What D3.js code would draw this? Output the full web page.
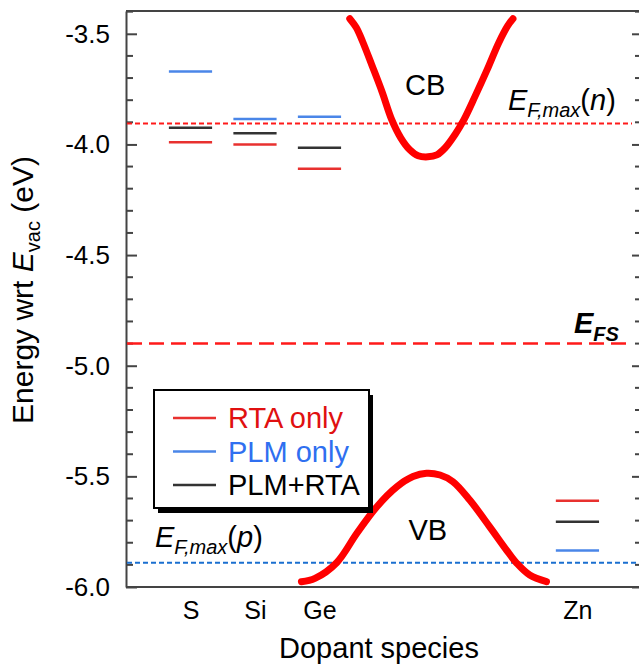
<!DOCTYPE html>
<html>
<head>
<meta charset="utf-8">
<script src="https://cdn.jsdelivr.net/npm/d3@7"></script>
<style>
  body { margin: 0; background: #fff; }
  text { font-family: "Liberation Sans", Arial, sans-serif; }
</style>
</head>
<body>
<div id="wrapper"></div>
<script>
// dopant levels (eV wrt vacuum)
const dopants = ["S", "Si", "Ge", "Zn"]
const dopantPos = [1, 2, 3, 7]
const rtaLevels = [-3.99, -4.00, -4.11, -5.61]
const plmLevels = [-3.67, -3.885, -3.875, -5.835]
const bothLevels = [-3.925, -3.95, -4.015, -5.705]

// reference energies
const efMaxN = -3.905
const efs = -4.9
const efMaxP = -5.89

// schematic band edges [position, energy]
const cbPoints = [
  [3.47, -3.432], [3.57, -3.472], [3.67, -3.536], [3.81, -3.640],
  [3.97, -3.762], [4.12, -3.888], [4.26, -3.970], [4.40, -4.024],
  [4.53, -4.051], [4.68, -4.056], [4.82, -4.047], [4.95, -4.015],
  [5.10, -3.956], [5.24, -3.888], [5.41, -3.784], [5.60, -3.662],
  [5.78, -3.540], [5.92, -3.463], [6.00, -3.432],
]
const vbPoints = [
  [2.72, -5.976], [2.93, -5.961], [3.27, -5.889], [3.58, -5.757],
  [3.89, -5.637], [4.20, -5.547], [4.45, -5.501], [4.66, -5.486],
  [4.87, -5.494], [5.07, -5.524], [5.33, -5.607], [5.64, -5.728],
  [5.90, -5.833], [6.06, -5.893], [6.26, -5.946], [6.52, -5.976],
]

const yMajor = [-6.0, -5.5, -5.0, -4.5, -4.0, -3.5]
const yMinor = [-5.9, -5.8, -5.7, -5.6, -5.4, -5.3, -5.2, -5.1,
  -4.9, -4.8, -4.7, -4.6, -4.4, -4.3, -4.2, -4.1,
  -3.9, -3.8, -3.7, -3.6, -3.4]

const legendItems = [
  { label: "RTA only", color: "#e8312f", text: "#e01010" },
  { label: "PLM only", color: "#4a86e8", text: "#2f6ff0" },
  { label: "PLM+RTA", color: "#333333", text: "#000000" },
]

function drawChart() {
  // right axis sits just past the picture edge, only its ticks show
  const dimensions = {
    width: 639,
    height: 667,
    margin: { top: 11, right: -1, bottom: 80, left: 126 },
  }
  dimensions.boundedWidth = dimensions.width
      - dimensions.margin.left - dimensions.margin.right
  dimensions.boundedHeight = dimensions.height
      - dimensions.margin.top - dimensions.margin.bottom

  const wrapper = d3.select("#wrapper")
    .append("svg")
      .attr("width", dimensions.width)
      .attr("height", dimensions.height)

  const bounds = wrapper.append("g")
      .attr("transform", `translate(${dimensions.margin.left},${dimensions.margin.top})`)

  const xScale = d3.scaleLinear()
      .domain([0, 7.97])
      .range([0, dimensions.boundedWidth])
  const yScale = d3.scaleLinear()
      .domain([-6.0, -3.397])
      .range([dimensions.boundedHeight, 0])

  // frame
  const axisColor = "#444"
  bounds.append("line")
      .attr("x1", 0).attr("x2", dimensions.boundedWidth)
      .attr("y1", 0).attr("y2", 0)
      .attr("stroke", axisColor).attr("stroke-width", 2)
  bounds.append("line")
      .attr("x1", 0).attr("x2", dimensions.boundedWidth)
      .attr("y1", dimensions.boundedHeight).attr("y2", dimensions.boundedHeight)
      .attr("stroke", axisColor).attr("stroke-width", 2)

  // left axis, ticks inward
  const leftAxis = bounds.append("g")
    .call(d3.axisLeft(yScale).tickValues(yMajor).tickSizeInner(-11).tickSizeOuter(0)
      .tickFormat(d => d.toFixed(1)))
  leftAxis.select(".domain").attr("stroke", axisColor).attr("stroke-width", 2)
  leftAxis.selectAll(".tick line").attr("stroke", axisColor).attr("stroke-width", 2)
  leftAxis.selectAll(".tick text")
      .attr("font-size", 26)
      .attr("font-family", "Liberation Sans, Arial, sans-serif")
      .attr("fill", "#000")
      .attr("x", -16)
  leftAxis.append("g")
    .selectAll("line")
    .data(yMinor)
    .join("line")
      .attr("x1", 0).attr("x2", 7)
      .attr("y1", d => yScale(d)).attr("y2", d => yScale(d))
      .attr("stroke", axisColor).attr("stroke-width", 2)

  // right axis, ticks inward, no labels
  const rightAxis = bounds.append("g")
      .attr("transform", `translate(${dimensions.boundedWidth},0)`)
    .call(d3.axisRight(yScale).tickValues(yMajor).tickSizeInner(-8).tickSizeOuter(0)
      .tickFormat(""))
  rightAxis.select(".domain").attr("stroke", axisColor).attr("stroke-width", 2)
  rightAxis.selectAll(".tick line").attr("stroke", axisColor).attr("stroke-width", 2)
  rightAxis.append("g")
    .selectAll("line")
    .data(yMinor)
    .join("line")
      .attr("x1", 0).attr("x2", -5)
      .attr("y1", d => yScale(d)).attr("y2", d => yScale(d))
      .attr("stroke", axisColor).attr("stroke-width", 2)

  // bottom axis labels (no ticks)
  const xAxis = bounds.append("g")
      .attr("transform", `translate(0,${dimensions.boundedHeight})`)
    .call(d3.axisBottom(xScale).tickValues(dopantPos).tickSize(0).tickPadding(14)
      .tickFormat((d, i) => dopants[i]))
  xAxis.select(".domain").remove()
  xAxis.selectAll(".tick text")
      .attr("font-size", 25)
      .attr("font-family", "Liberation Sans, Arial, sans-serif")
      .attr("fill", "#000")
      .attr("dy", "0.71em")

  // axis titles
  wrapper.append("text")
      .attr("x", 379)
      .attr("y", 658)
      .attr("text-anchor", "middle")
      .attr("font-size", 29)
      .text("Dopant species")

  const yTitle = wrapper.append("text")
      .attr("transform", "translate(33,290) rotate(-90)")
      .attr("text-anchor", "middle")
      .attr("font-size", 30)
  yTitle.append("tspan").text("Energy wrt ")
  yTitle.append("tspan").attr("font-style", "italic").text("E")
  yTitle.append("tspan").attr("font-size", 20).attr("dy", 7).text("vac")
  yTitle.append("tspan").attr("dy", -7).text(" (eV)")

  // reference dashed lines
  const dashed = [
    { e: efMaxN, color: "#ff1a1a", width: 2, dash: "5,3", end: 632 },
    { e: efs, color: "#ff1a1a", width: 2.5, dash: "15,7", end: 628 },
    { e: efMaxP, color: "#1a6fd0", width: 2, dash: "5,3", end: 638 },
  ]
  bounds.append("g")
    .selectAll("line")
    .data(dashed)
    .join("line")
      .attr("x1", 1)
      .attr("x2", d => d.end - dimensions.margin.left)
      .attr("y1", d => yScale(d.e)).attr("y2", d => yScale(d.e))
      .attr("stroke", d => d.color)
      .attr("stroke-width", d => d.width)
      .attr("stroke-dasharray", d => d.dash)

  // band edges
  const lineGenerator = d3.line()
    .x(d => xScale(d[0]))
    .y(d => yScale(d[1]))
    .curve(d3.curveCatmullRom)
  bounds.selectAll(".band")
    .data([cbPoints, vbPoints])
    .join("path")
      .attr("class", "band")
      .attr("d", lineGenerator)
      .attr("fill", "none")
      .attr("stroke", "#ff0000")
      .attr("stroke-width", 7)
      .attr("stroke-linecap", "round")
      .attr("stroke-linejoin", "round")

  bounds.append("text")
      .attr("x", xScale(4.64)).attr("y", yScale(-3.775))
      .attr("text-anchor", "middle").attr("font-size", 29)
      .text("CB")
  bounds.append("text")
      .attr("x", xScale(4.68)).attr("y", yScale(-5.787))
      .attr("text-anchor", "middle").attr("font-size", 29)
      .text("VB")

  // dopant levels
  const halfW = 0.335
  const series = [
    { values: rtaLevels, color: legendItems[0].color },
    { values: plmLevels, color: legendItems[1].color },
    { values: bothLevels, color: legendItems[2].color },
  ]
  series.forEach(s => {
    bounds.append("g")
      .selectAll("line")
      .data(s.values)
      .join("line")
        .attr("x1", (d, i) => xScale(dopantPos[i] - halfW))
        .attr("x2", (d, i) => xScale(dopantPos[i] + halfW))
        .attr("y1", d => yScale(d)).attr("y2", d => yScale(d))
        .attr("stroke", s.color)
        .attr("stroke-width", 2.5)
  })

  // energy labels
  const efnLabel = wrapper.append("text")
      .attr("x", 508).attr("y", 110).attr("font-size", 29)
  efnLabel.append("tspan").attr("font-style", "italic").text("E")
  efnLabel.append("tspan").attr("font-style", "italic").attr("font-size", 20)
      .attr("dy", 7).text("F,max")
  efnLabel.append("tspan").attr("dy", -7).text("(")
  efnLabel.append("tspan").attr("font-style", "italic").text("n")
  efnLabel.append("tspan").text(")")

  const efsLabel = wrapper.append("text")
      .attr("x", 574).attr("y", 333).attr("font-size", 29)
      .attr("font-weight", "bold").attr("font-style", "italic")
  efsLabel.append("tspan").text("E")
  efsLabel.append("tspan").attr("font-size", 20).attr("dy", 8).text("FS")

  const efpLabel = wrapper.append("text")
      .attr("x", 155).attr("y", 547).attr("font-size", 29)
  efpLabel.append("tspan").attr("font-style", "italic").text("E")
  efpLabel.append("tspan").attr("font-style", "italic").attr("font-size", 20)
      .attr("dy", 7).text("F,max")
  efpLabel.append("tspan").attr("dy", -7).text("(")
  efpLabel.append("tspan").attr("font-style", "italic").text("p")
  efpLabel.append("tspan").text(")")

  // legend box with drop shadow
  const legend = wrapper.append("g")
      .attr("transform", "translate(154,390)")
  legend.append("rect")
      .attr("x", 4).attr("y", 5).attr("width", 215).attr("height", 118)
      .attr("fill", "#000")
  legend.append("rect")
      .attr("width", 215).attr("height", 118)
      .attr("fill", "#fff").attr("stroke", "#000").attr("stroke-width", 2)
  const rows = legend.selectAll(".row")
    .data(legendItems)
    .join("g")
      .attr("class", "row")
      .attr("transform", (d, i) => `translate(0,${28 + i * 33.5})`)
  rows.append("line")
      .attr("x1", 19).attr("x2", 62)
      .attr("stroke", d => d.color).attr("stroke-width", 2.5)
  rows.append("text")
      .attr("x", 74).attr("y", 10)
      .attr("font-size", 29)
      .attr("fill", d => d.text)
      .text(d => d.label)
}

drawChart()
</script>
</body>
</html>
